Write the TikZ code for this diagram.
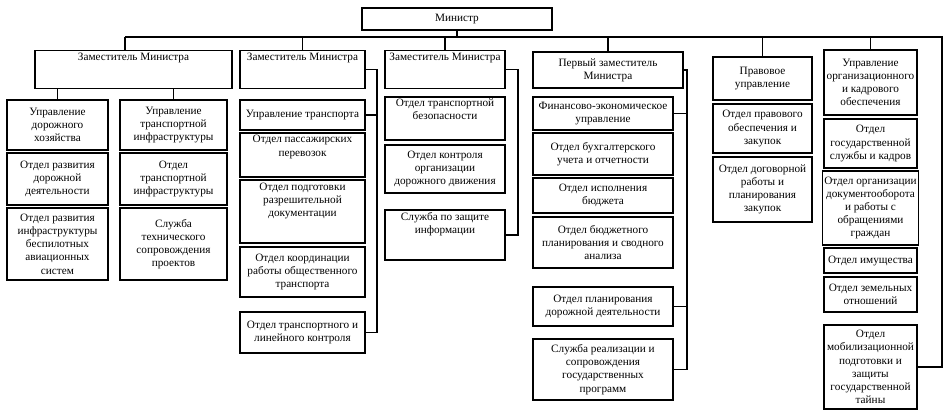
\documentclass[tikz,border=0pt]{standalone}
\usepackage{fontspec}
\setmainfont{Liberation Serif}
\begin{document}
\begin{tikzpicture}[x=0.02cm, y=-0.02cm]
  \tikzset{
    box/.style={draw, line width=0.8pt, rectangle, align=center, inner sep=1pt, font=\fontsize{6.4}{7.5}\selectfont},
    sz/.style 2 args={minimum width=#1*0.02cm, minimum height=#2*0.02cm},
    line/.style={draw, line width=0.6pt}
  }
  \useasboundingbox (0,0) rectangle (951,416);
  % top
  \node [box, sz={190}{22}] (min) at (457,19) {Министр};
  \node [box, sz={197}{38}, anchor=north] (z1) at (133.5,50) {Заместитель Министра\\[2.4ex]};
  \node [box, sz={125}{38}, anchor=north] (z2) at (302.5,50) {Заместитель Министра\\[2.4ex]};
  \node [box, sz={120}{38}, anchor=north] (z3) at (445,50) {Заместитель Министра\\[2.4ex]};
  \node [box, sz={150}{36}] (fz) at (608,70) {Первый заместитель\\Министра};
  \node [box, sz={99}{43}] (pu) at (762.5,78.5) {Правовое\\управление};
  \node [box, sz={93}{65}] (uo) at (870.5,82.5) {Управление\\организационного\\и кадрового\\обеспечения};
  % column 1
  \node [box, sz={101}{50}] (a1) at (57.5,125) {Управление\\дорожного\\хозяйства};
  \node [box, sz={101}{52}] (a2) at (57.5,179) {Отдел развития\\дорожной\\деятельности};
  \node [box, sz={101}{72}] (a3) at (57.5,244) {Отдел развития\\инфраструктуры\\беспилотных\\авиационных\\систем};
  \node [box, sz={107}{50}] (b1) at (173.5,125) {Управление\\транспортной\\инфраструктуры};
  \node [box, sz={107}{52}] (b2) at (173.5,179) {Отдел\\транспортной\\инфраструктуры};
  \node [box, sz={107}{72}] (b3) at (173.5,244) {Служба\\технического\\сопровождения\\проектов};
  % column 2
  \node [box, sz={125}{30}] (c1) at (302.5,115) {Управление транспорта};
  \node [box, sz={125}{44}] (c2) at (302.5,155) {Отдел пассажирских\\перевозок\\[1ex]};
  \node [box, sz={125}{63}] (c3) at (302.5,211.5) {Отдел подготовки\\разрешительной\\документации\\[2ex]};
  \node [box, sz={125}{50}] (c4) at (302.5,272) {Отдел координации\\работы общественного\\транспорта};
  \node [box, sz={125}{41}] (c5) at (302.5,332.5) {Отдел транспортного и\\линейного контроля};
  % column 3
  \node [box, sz={120}{43}] (d1) at (445,118.5) {Отдел транспортной\\безопасности\\[1ex]};
  \node [box, sz={120}{48}] (d2) at (445,169) {Отдел контроля\\организации\\дорожного движения};
  \node [box, sz={120}{50}] (d3) at (445,235) {Служба по защите\\информации\\[2ex]};
  % column 4
  \node [box, sz={140}{33}] (e1) at (603,113.5) {Финансово-экономическое\\управление};
  \node [box, sz={140}{42}] (e2) at (603,154) {Отдел бухгалтерского\\учета и отчетности};
  \node [box, sz={140}{35}] (e3) at (603,195.5) {Отдел исполнения\\бюджета};
  \node [box, sz={140}{51}] (e4) at (603,242.5) {Отдел бюджетного\\планирования и сводного\\анализа};
  \node [box, sz={140}{39}] (e5) at (603,306.5) {Отдел планирования\\дорожной деятельности};
  \node [box, sz={140}{61}] (e6) at (603,369.5) {Служба реализации и\\сопровождения\\государственных\\программ};
  % column 5
  \node [box, sz={99}{49}] (f1) at (762.5,128.5) {Отдел правового\\обеспечения и\\закупок};
  \node [box, sz={99}{65}] (f2) at (762.5,189.5) {Отдел договорной\\работы и\\планирования\\закупок};
  % column 6
  \node [box, sz={93}{49}] (g1) at (870.5,143.5) {Отдел\\государственной\\службы и кадров};
  \node [box, sz={93}{74}] (g2) at (870.5,208) {Отдел организации\\документооборота\\и работы с\\обращениями\\граждан};
  \node [box, sz={93}{25}] (g3) at (870.5,260.5) {Отдел имущества};
  \node [box, sz={93}{35}] (g4) at (870.5,294.5) {Отдел земельных\\отношений};
  \node [box, sz={93}{84}] (g5) at (870.5,367) {Отдел\\мобилизационной\\подготовки и\\защиты\\государственной\\тайны};

  \coordinate (busL) at (125,37);
  \coordinate (busR) at (942,37);
  \coordinate (z2r) at (377,0);
  \coordinate (z3r) at (518,0);
  \coordinate (fzr) at (687,0);
  \path [line] (busL)--(busR) |- (g5.east);
  \path [line] (min.south)--(min.south |- busL);
  \path [line] (busL)--(busL |- z1.north);
  \path [line] (z2.north)--(z2.north |- busL);
  \path [line] (z3.north)--(z3.north |- busL);
  \path [line] (fz.north)--(fz.north |- busL);
  \path [line] (pu.north)--(pu.north |- busL);
  \path [line] (uo.north)--(uo.north |- busL);
  \path [line] (a1.north |- z1.south)--(a1.north);
  \path [line] (b1.north |- z1.south)--(b1.north);
  \path [line] (z2.east) -| (z2r |- c5.east)--(c5.east);
  \path [line] (c1.east)--(c1.east -| z2r);
  \path [line] (z3.east) -| (z3r |- d3.east)--(d3.east);
  \path [line] (fz.east) -| (fzr |- e6.east)--(e6.east);
  \path [line] (e1.east)--(e1.east -| fzr);
  \path [line] (e5.east)--(e5.east -| fzr);
\end{tikzpicture}
\end{document}
